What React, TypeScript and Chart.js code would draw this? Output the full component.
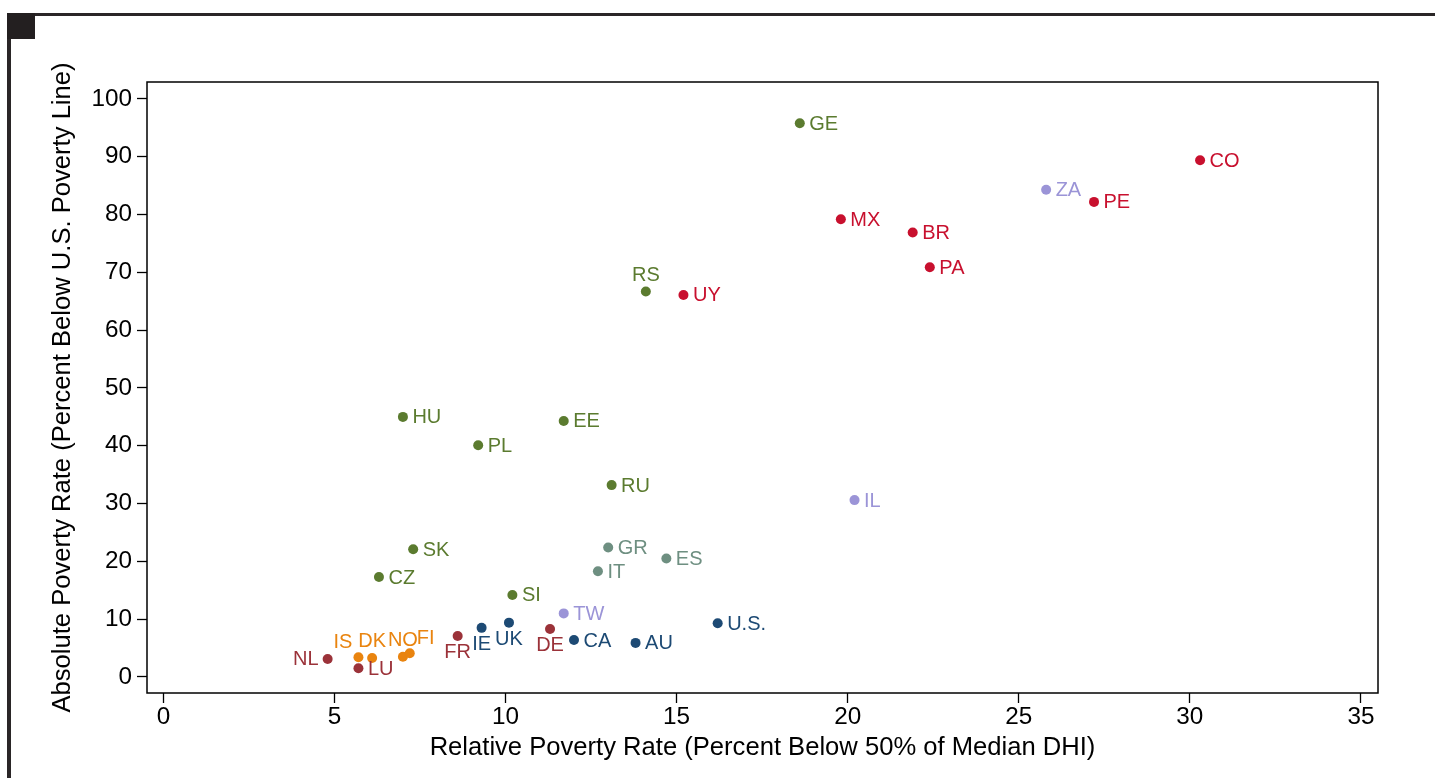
import React, { useEffect, useRef } from "react";
import { Chart, registerables } from "chart.js";

Chart.register(...registerables);

// ---- Data ----
const countries = ["GE","CO","ZA","PE","MX","BR","PA","RS","UY","HU","EE","PL","RU","IL","SK","GR","ES","CZ","IT","SI","TW","U.S.","UK","IE","DE","FR","CA","AU","NL","IS","DK","NO","FI","LU"];
const relativePoverty = [18.6,30.3,25.8,27.2,19.8,21.9,22.4,14.1,15.2,7.0,11.7,9.2,13.1,20.2,7.3,13.0,14.7,6.3,12.7,10.2,11.7,16.2,10.1,9.3,11.3,8.6,12.0,13.8,4.8,5.7,6.1,7.0,7.2,5.7];
const absolutePoverty = [95.8,89.4,84.3,82.2,79.2,76.9,70.9,66.7,66.1,45.0,44.3,40.1,33.2,30.6,22.1,22.4,20.5,17.3,18.3,14.2,11.0,9.3,9.4,8.5,8.3,7.1,6.4,5.9,3.1,3.4,3.3,3.5,4.1,1.5];
const groups = ["green","red","lavender","red","red","red","red","green","red","green","green","green","green","lavender","green","gray","gray","green","gray","green","lavender","navy","navy","navy","darkred","darkred","navy","navy","darkred","orange","orange","orange","orange","darkred"];
// clock position of each point's label (3 = right, 12 = above, 6 = below, 9 = left, 11 = upper left, 1 = upper right)
const labelClock = [3,3,3,3,3,3,3,12,3,3,3,3,3,3,3,3,3,3,3,3,3,3,6,6,6,6,3,3,9,11,12,12,1,3];

const xTickValues = [0,5,10,15,20,25,30,35];
const yTickValues = [0,10,20,30,40,50,60,70,80,90,100];

const xTitle = "Relative Poverty Rate (Percent Below 50% of Median DHI)";
const yTitle = "Absolute Poverty Rate (Percent Below U.S. Poverty Line)";

// ---- Styles ----
const groupColors: Record<string, string> = {
  green: "#5b7b2f",
  red: "#c8102e",
  lavender: "#9b94d7",
  gray: "#6e8f81",
  navy: "#1d4a74",
  darkred: "#9b3239",
  orange: "#e9840f",
};
const FONT = '"Liberation Sans", Arial, Helvetica, sans-serif';
const TICK_SIZE = 24.3;
const TITLE_SIZE = 25.6;
const LABEL_SIZE = 20;

const pointLabelsPlugin = {
  id: "pointLabels",
  afterDatasetsDraw(chart: any) {
    const ctx = chart.ctx;
    const meta = chart.getDatasetMeta(0);
    ctx.save();
    ctx.font = `${LABEL_SIZE}px ${FONT}`;
    ctx.textBaseline = "middle";
    meta.data.forEach((pt: any, i: number) => {
      const { x, y } = pt.getProps(["x", "y"], true);
      let tx = x, ty = y, align: CanvasTextAlign = "left";
      switch (labelClock[i]) {
        case 3: tx = x + 9.5; ty = y + 1; align = "left"; break;
        case 9: tx = x - 9; ty = y; align = "right"; break;
        case 12: tx = x; ty = y - 16; align = "center"; break;
        case 6: tx = x; ty = y + 16.5; align = "center"; break;
        case 11: tx = x - 6; ty = y - 15; align = "right"; break;
        case 1: tx = x + 7; ty = y - 15; align = "left"; break;
      }
      ctx.textAlign = align;
      ctx.fillStyle = groupColors[groups[i]];
      ctx.fillText(countries[i], tx, ty);
    });
    ctx.restore();
  },
};

const framePlugin = {
  id: "plotFrame",
  afterDraw(chart: any) {
    const { ctx, chartArea } = chart;
    ctx.save();
    ctx.strokeStyle = "#000";
    ctx.lineWidth = 1.5;
    ctx.strokeRect(chartArea.left, chartArea.top, chartArea.right - chartArea.left, chartArea.bottom - chartArea.top);
    ctx.restore();
  },
};

export default function App() {
  const canvasRef = useRef<HTMLCanvasElement | null>(null);

  useEffect(() => {
    if (!canvasRef.current) return;
    const chart = new Chart(canvasRef.current, {
      type: "scatter",
      data: {
        datasets: [
          {
            data: relativePoverty.map((v, i) => ({ x: v, y: absolutePoverty[i] })),
            pointRadius: 5,
            pointHoverRadius: 5,
            pointBorderWidth: 0,
            pointBackgroundColor: groups.map((g) => groupColors[g]),
            pointBorderColor: groups.map((g) => groupColors[g]),
          },
        ],
      },
      options: {
        responsive: false,
        animation: false,
        devicePixelRatio: 1,
        layout: { padding: { left: 0, top: 82, right: 57, bottom: 0 } },
        plugins: { legend: { display: false }, tooltip: { enabled: false } },
        scales: {
          x: {
            type: "linear",
            position: "bottom",
            min: -0.48,
            max: 35.5,
            afterBuildTicks: (s: any) => { s.ticks = xTickValues.map((v) => ({ value: v })); },
            afterFit: (s: any) => { s.height = 85; },
            ticks: { font: { family: FONT, size: TICK_SIZE }, color: "#000", padding: 0, maxRotation: 0, autoSkip: false, callback: (v: any) => String(v) },
            grid: { drawOnChartArea: false, drawTicks: true, tickLength: 10, tickColor: "#000", tickWidth: 1.3 },
            border: { display: false },
            title: { display: true, text: xTitle, color: "#000", font: { family: FONT, size: TITLE_SIZE }, padding: { top: 0, bottom: 14.6 } },
          },
          y: {
            type: "linear",
            position: "left",
            min: -2.77,
            max: 102.94,
            afterBuildTicks: (s: any) => { s.ticks = yTickValues.map((v) => ({ value: v })); },
            afterFit: (s: any) => { s.width = 147; },
            ticks: { font: { family: FONT, size: TICK_SIZE }, color: "#000", padding: 5, autoSkip: false, callback: (v: any) => String(v) },
            grid: { drawOnChartArea: false, drawTicks: true, tickLength: 10, tickColor: "#000", tickWidth: 1.3 },
            border: { display: false },
            title: { display: true, text: yTitle, color: "#000", font: { family: FONT, size: TITLE_SIZE }, padding: { top: 47.6, bottom: 0 } },
          },
        },
      },
      plugins: [pointLabelsPlugin, framePlugin],
    } as any);
    return () => chart.destroy();
  }, []);

  return (
    <div style={{ position: "fixed", left: 0, top: 0, width: 1435, height: 778, background: "#fff", overflow: "hidden" }}>
      <canvas ref={canvasRef} width={1435} height={778} style={{ position: "absolute", left: 0, top: 0, width: 1435, height: 778 }} />
      <div style={{ position: "absolute", left: 7, top: 13, width: 1428, height: 3, background: "#2a2627" }} />
      <div style={{ position: "absolute", left: 7, top: 13, width: 4, height: 765, background: "#2a2627" }} />
      <div style={{ position: "absolute", left: 7, top: 13, width: 28, height: 26, background: "#231f20" }} />
    </div>
  );
}
